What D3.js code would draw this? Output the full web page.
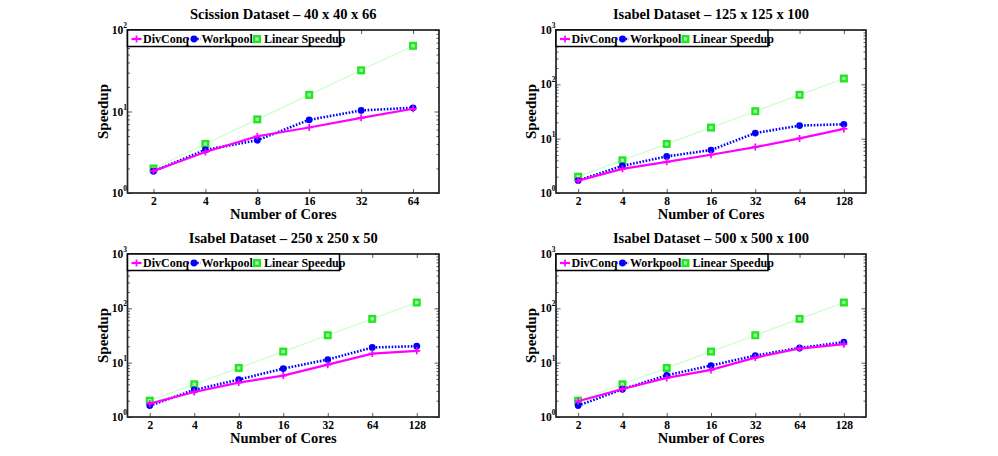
<!DOCTYPE html>
<html>
<head>
<meta charset="utf-8">
<script src="https://cdn.jsdelivr.net/npm/d3@7"></script>
<style>
  html, body { margin: 0; padding: 0; background: #fff; }
  svg { display: block; font-family: "Liberation Serif", "Times New Roman", serif; font-weight: bold; }
</style>
</head>
<body>
<svg id="chart" width="998" height="456"></svg>
<script>
// ---------------- data ----------------
const titles = [
  "Scission Dataset \u2013 40 x 40 x 66",
  "Isabel Dataset \u2013 125 x 125 x 100",
  "Isabel Dataset \u2013 250 x 250 x 50",
  "Isabel Dataset \u2013 500 x 500 x 100"
];
const cores64 = [2, 4, 8, 16, 32, 64];
const cores128 = [2, 4, 8, 16, 32, 64, 128];
const seriesNames = ["DivConq", "Workpool", "Linear Speedup"];

const scissionDivConq  = [1.86, 3.19, 4.97, 6.36, 8.36, 10.8];
const scissionWorkpool = [1.85, 3.38, 4.44, 7.9, 10.3, 11.1];
const scissionLinear   = [2, 4, 8, 16, 32, 64];

const isabel125DivConq  = [1.69, 2.78, 3.75, 5.06, 7.0, 10.1, 15.1];
const isabel125Workpool = [1.69, 3.16, 4.71, 6.17, 12.7, 17.4, 18.4];
const isabel125Linear   = [2, 4, 8, 16, 32, 64, 128];

const isabel250DivConq  = [1.76, 2.89, 4.3, 5.78, 9.2, 14.7, 16.5];
const isabel250Workpool = [1.62, 3.15, 4.88, 7.78, 11.4, 19.0, 20.1];
const isabel250Linear   = [2, 4, 8, 16, 32, 64, 128];

const isabel500DivConq  = [1.95, 3.28, 5.24, 7.36, 12.4, 18.2, 21.9];
const isabel500Workpool = [1.62, 3.24, 5.86, 8.85, 13.5, 18.7, 23.8];
const isabel500Linear   = [2, 4, 8, 16, 32, 64, 128];

const yMaxExp = [2, 3, 3, 3];
const xLabel = "Number of Cores";
const yLabel = "Speedup";

// ---------------- layout ----------------
const panels = [
  { title: titles[0], cores: cores64,  series: [scissionDivConq, scissionWorkpool, scissionLinear], yExp: yMaxExp[0], left: 127.5, top: 30, right: 439, bottom: 193 },
  { title: titles[1], cores: cores128, series: [isabel125DivConq, isabel125Workpool, isabel125Linear], yExp: yMaxExp[1], left: 556, top: 30, right: 866, bottom: 193 },
  { title: titles[2], cores: cores128, series: [isabel250DivConq, isabel250Workpool, isabel250Linear], yExp: yMaxExp[2], left: 127.5, top: 254, right: 439, bottom: 417 },
  { title: titles[3], cores: cores128, series: [isabel500DivConq, isabel500Workpool, isabel500Linear], yExp: yMaxExp[3], left: 556, top: 254, right: 866, bottom: 417 }
];

const colors = ["#ff00ff", "#0000ff", "#ccffcc"];
const svg = d3.select("#chart");

function drawMarker(g, type, cx, cy) {
  if (type === 0) {
    g.append("path").attr("d", `M${cx-3.5},${cy}H${cx+3.5}M${cx},${cy-3.5}V${cy+3.5}`)
      .attr("stroke", "#ff00ff").attr("stroke-width", 1.7).attr("fill", "none");
  } else if (type === 1) {
    g.append("circle").attr("cx", cx).attr("cy", cy).attr("r", 3.4).attr("fill", "#0000ff");
  } else {
    g.append("rect").attr("x", cx - 4).attr("y", cy - 4).attr("width", 8).attr("height", 8)
      .attr("fill", "#22e622");
    g.append("rect").attr("x", cx - 1.6).attr("y", cy - 1.6).attr("width", 3.2).attr("height", 3.2)
      .attr("fill", "#a6ffa6");
  }
}

panels.forEach(p => {
  const g = svg.append("g");
  const lastCore = p.cores[p.cores.length - 1];
  const x = d3.scaleLog().base(2).domain([Math.SQRT2, lastCore * Math.SQRT2]).range([p.left, p.right]);
  const y = d3.scaleLog().domain([1, Math.pow(10, p.yExp)]).range([p.bottom, p.top]);
  const cx = (p.left + p.right) / 2;

  // minor ticks on y
  const minors = [];
  for (let e = 0; e < p.yExp; e++) for (let k = 2; k <= 9; k++) minors.push(k * Math.pow(10, e));
  const majors = d3.range(0, p.yExp + 1).map(e => Math.pow(10, e));

  g.append("g").attr("transform", `translate(${p.left},0)`)
    .call(d3.axisLeft(y).tickValues(minors).tickSize(-2.5).tickFormat(""))
    .call(a => a.select(".domain").remove());
  g.append("g").attr("transform", `translate(${p.right},0)`)
    .call(d3.axisRight(y).tickValues(minors).tickSize(-2.5).tickFormat(""))
    .call(a => a.select(".domain").remove());
  g.append("g").attr("transform", `translate(${p.left},0)`)
    .call(d3.axisLeft(y).tickValues(majors).tickSize(-4.5).tickFormat(""))
    .call(a => a.select(".domain").remove());
  g.append("g").attr("transform", `translate(${p.right},0)`)
    .call(d3.axisRight(y).tickValues(majors).tickSize(-4.5).tickFormat(""))
    .call(a => a.select(".domain").remove());

  // x ticks
  g.append("g").attr("transform", `translate(0,${p.bottom})`)
    .call(d3.axisBottom(x).tickValues(p.cores).tickSizeInner(-4).tickSizeOuter(0).tickPadding(3.5).tickFormat(d3.format("d")))
    .call(a => a.select(".domain").remove())
    .call(a => a.selectAll("text").attr("font-size", 11.5).attr("font-family", "Liberation Serif").attr("font-weight", "bold").attr("fill", "#000"));
  g.append("g").attr("transform", `translate(0,${p.top})`)
    .call(d3.axisTop(x).tickValues(p.cores).tickSizeInner(-4).tickSizeOuter(0).tickFormat(""))
    .call(a => a.select(".domain").remove());

  g.selectAll(".tick line").attr("stroke", "#333").attr("stroke-width", 0.8);

  // y tick labels 10^n
  majors.forEach((v, i) => {
    const t = g.append("text").attr("x", p.left - 0.5).attr("y", y(v) + 4)
      .attr("text-anchor", "end").attr("font-size", 11.5);
    t.append("tspan").text("10");
    t.append("tspan").attr("font-size", 7.5).attr("dy", -6).text(String(i));
  });

  // frame
  g.append("rect").attr("x", p.left).attr("y", p.top)
    .attr("width", p.right - p.left).attr("height", p.bottom - p.top)
    .attr("fill", "none").attr("stroke", "#222").attr("stroke-width", 1.7);

  // series lines
  const line = d3.line().x((d, i) => x(p.cores[i])).y(d => y(d));
  const order = [2, 1, 0];
  order.forEach(si => {
    const path = g.append("path").datum(p.series[si]).attr("d", line).attr("fill", "none")
      .attr("stroke", colors[si]);
    if (si === 0) path.attr("stroke-width", 2.2);
    if (si === 1) path.attr("stroke-width", 2.6).attr("stroke-dasharray", "1.6,1.6");
    if (si === 2) path.attr("stroke-width", 1.2);
    p.series[si].forEach((v, i) => drawMarker(g, si, x(p.cores[i]), y(v)));
  });

  // title and labels
  g.append("text").attr("x", cx).attr("y", p.top - 11).attr("text-anchor", "middle")
    .attr("font-size", 14.5).text(p.title);
  g.append("text").attr("x", cx).attr("y", p.bottom + 25.5).attr("text-anchor", "middle")
    .attr("font-size", 14.5).text(xLabel);
  g.append("text").attr("transform", `translate(${p.left - 20},${(p.top + p.bottom) / 2}) rotate(-90)`)
    .attr("text-anchor", "middle").attr("font-size", 15).text(yLabel);

  // legend
  const lg = g.append("g").attr("transform", `translate(${p.left},${p.top})`);
  lg.append("rect").attr("x", 0).attr("y", 0).attr("width", 212).attr("height", 16.5)
    .attr("fill", "#fff").attr("stroke", "#000").attr("stroke-width", 1.5);
  const items = [
    { lx0: 4, lx1: 14, mx: 9, tx: 15.5 },
    { lx0: 60, lx1: 73, mx: 66.5, tx: 74 },
    { lx0: 124, lx1: 134, mx: 129.5, tx: 136.5 }
  ];
  const ly = 9;
  items.forEach((it, si) => {
    if (si !== 2) {
      const l = lg.append("line").attr("x1", it.lx0).attr("x2", it.lx1).attr("y1", ly).attr("y2", ly)
        .attr("stroke", colors[si]);
      if (si === 0) l.attr("stroke-width", 2.2);
      if (si === 1) l.attr("stroke-width", 2.6).attr("stroke-dasharray", "1.6,1.6");
    }
    drawMarker(lg, si, it.mx, ly);
    lg.append("text").attr("x", it.tx).attr("y", ly + 4).attr("font-size", 12).text(seriesNames[si]);
  });
});
</script>
</body>
</html>
